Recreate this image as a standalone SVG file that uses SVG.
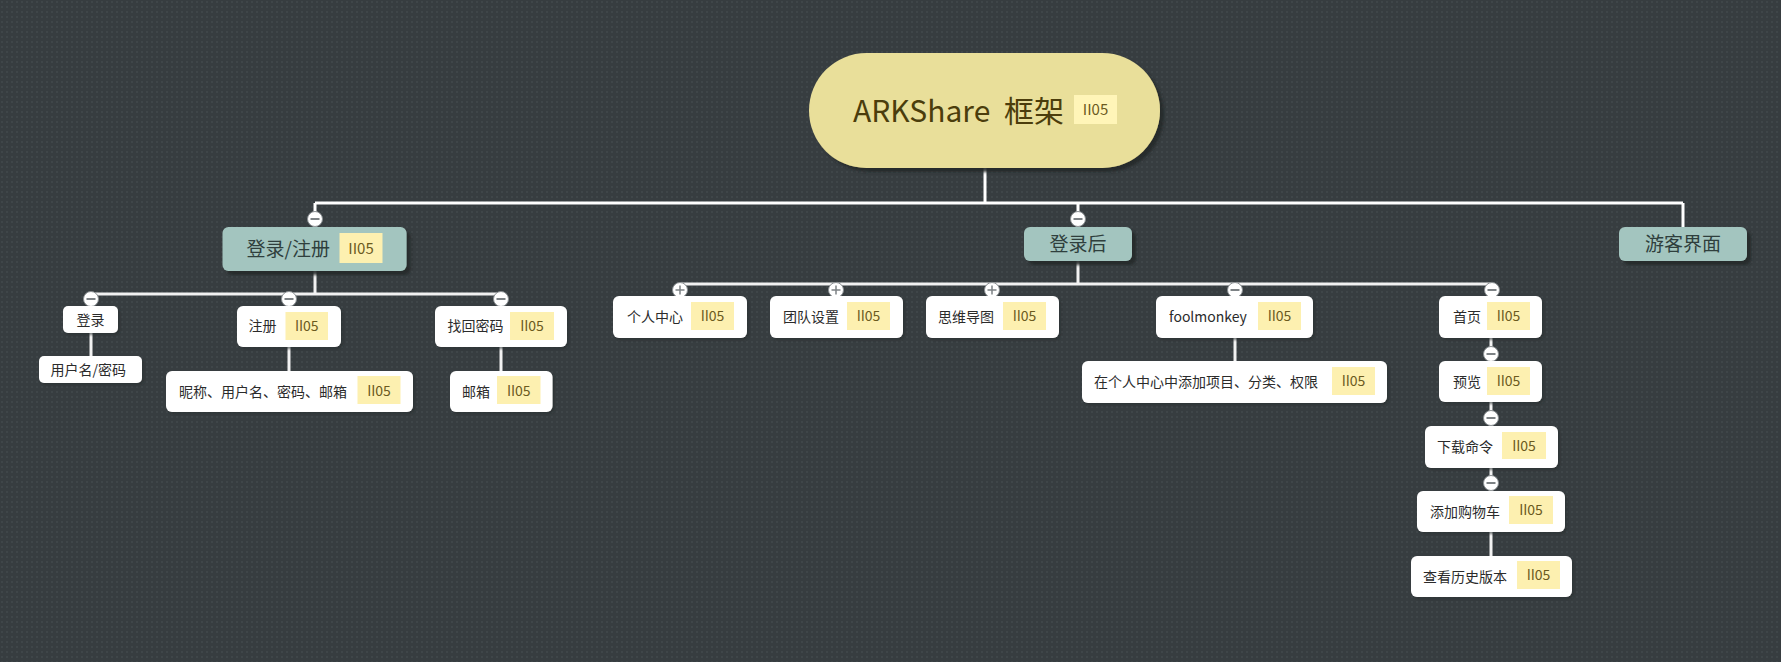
<svg xmlns="http://www.w3.org/2000/svg" width="1781" height="662" viewBox="0 0 1781 662">
  <defs>
    <pattern id="dots" width="5" height="5" patternUnits="userSpaceOnUse">
      <rect width="5" height="5" fill="#373d40"/>
      <rect x="1" y="1" width="2" height="2" fill="#3f4649"/>
    </pattern>
    <filter id="sh" x="-10%" y="-20%" width="130%" height="150%">
      <feDropShadow dx="4" dy="4" stdDeviation="1.5" flood-color="#23282a" flood-opacity="0.9"/>
    </filter>
    <filter id="shw" x="-10%" y="-20%" width="130%" height="150%">
      <feDropShadow dx="2" dy="2" stdDeviation="1" flood-color="#262b2d" flood-opacity="0.6"/>
    </filter>
    <g id="minus">
      <circle r="7.5" fill="#ffffff" stroke="#8a8f92" stroke-width="1"/>
      <line x1="-4.5" y1="0" x2="4.5" y2="0" stroke="#7d8285" stroke-width="2"/>
    </g>
    <g id="plus">
      <circle r="7.5" fill="#ffffff" stroke="#8a8f92" stroke-width="1"/>
      <line x1="-4.5" y1="0" x2="4.5" y2="0" stroke="#7d8285" stroke-width="1.5"/>
      <line x1="0" y1="-4.5" x2="0" y2="4.5" stroke="#7d8285" stroke-width="1.5"/>
    </g>
  </defs>
  <style>
    text { font-family: "Noto Sans CJK SC", "Noto Sans", sans-serif; }
    .root { fill: #e9df9a; }
    .rootText { fill: #4b3d0c; font-size: 30px; }
    .teal { fill: #a3c5bf; }
    .tealText { fill: #2f3f3d; font-size: 19px; }
    .white { fill: #ffffff; }
    .wText { fill: #2b2b2b; font-size: 14px; }
    .tag { fill: #fdf0b0; }
    .tagText { fill: #6b5a1e; font-size: 14px; text-anchor: middle; }
    .tagTextL { fill: #6b5a1e; font-size: 15px; text-anchor: middle; }
    .line { stroke: #ffffff; fill: none; stroke-width: 3; }
    .line2 { stroke: #f2f2f2; fill: none; stroke-width: 3; }
  </style>

  <rect width="1781" height="662" fill="url(#dots)"/>

  <g id="connectors">
    <path class="line" d="M985 168 V203 M315 203 H1683 M315 203 V227 M1078 203 V227 M1683 203 V227"/>
    <path class="line2" d="M315 271 V294 M91 294 H501 M91 294 V306 M289 294 V306 M501 294 V306"/>
    <path class="line2" d="M91 333 V356 M289 347 V371 M501 347 V371"/>
    <path class="line2" d="M1078 261 V284 M680 284 H1492 M680 284 V296 M836 284 V296 M992 284 V296 M1235 284 V296 M1492 284 V296"/>
    <path class="line2" d="M1235 338 V361 M1491 338 V361 M1491 402 V426 M1491 468 V491 M1491 532 V556"/>
    <use href="#minus" x="315" y="219"/>
    <use href="#minus" x="1078" y="219"/>
    <use href="#minus" x="91" y="299"/>
    <use href="#minus" x="289" y="299"/>
    <use href="#minus" x="501" y="299"/>
    <use href="#plus" x="680" y="290"/>
    <use href="#plus" x="836" y="290"/>
    <use href="#plus" x="992" y="290"/>
    <use href="#minus" x="1235" y="290"/>
    <use href="#minus" x="1492" y="290"/>
    <use href="#minus" x="1491" y="354"/>
    <use href="#minus" x="1491" y="418"/>
    <use href="#minus" x="1491" y="483"/>
  </g>

  <g id="node-root">
    <rect class="root" x="809" y="53" width="351" height="115" rx="57.5" filter="url(#sh)"/>
    <text class="rootText" x="853" y="122">ARKShare</text>
    <text class="rootText" x="1004" y="122">框架</text>
    <rect x="1074" y="95" width="43" height="29" fill="#fff5b8"/>
    <text class="tagText" x="1095.5" y="115" style="font-size:15px">II05</text>
  </g>

  <g id="node-login-register">
    <rect class="teal" x="222.5" y="227" width="184" height="44" rx="6" filter="url(#sh)"/>
    <text class="tealText" x="246.5" y="256">登录/注册</text>
    <rect class="tag" x="339.5" y="233" width="43" height="30"/>
    <text class="tagTextL" x="361" y="254">II05</text>
  </g>

  <g id="node-after-login">
    <rect class="teal" x="1024" y="227" width="108" height="34" rx="6" filter="url(#sh)"/>
    <text class="tealText" x="1078" y="251" text-anchor="middle">登录后</text>
  </g>

  <g id="node-guest">
    <rect class="teal" x="1619" y="227" width="128" height="34" rx="6" filter="url(#sh)"/>
    <text class="tealText" x="1683" y="251" text-anchor="middle">游客界面</text>
  </g>

  <g id="node-login">
    <rect class="white" x="63" y="306" width="55" height="27" rx="5" filter="url(#shw)"/>
    <text class="wText" x="90.5" y="324.5" text-anchor="middle">登录</text>
  </g>

  <g id="node-userpass">
    <rect class="white" x="39" y="356" width="103" height="27" rx="5" filter="url(#shw)"/>
    <text class="wText" x="50.5" y="375">用户名/密码</text>
  </g>

  <g id="node-register">
    <rect class="white" x="237" y="306" width="104" height="41" rx="6" filter="url(#shw)"/>
    <text class="wText" x="248.5" y="331">注册</text>
    <rect class="tag" x="285.5" y="312" width="42.5" height="28"/>
    <text class="tagText" x="306.75" y="331">II05</text>
  </g>

  <g id="node-register-fields">
    <rect class="white" x="166" y="371" width="247" height="41" rx="6" filter="url(#shw)"/>
    <text class="wText" x="179" y="396.5">昵称、用户名、密码、邮箱</text>
    <rect class="tag" x="357.5" y="376" width="43" height="28"/>
    <text class="tagText" x="379" y="395.5">II05</text>
  </g>

  <g id="node-recover">
    <rect class="white" x="435" y="306" width="132" height="41" rx="6" filter="url(#shw)"/>
    <text class="wText" x="447.5" y="331">找回密码</text>
    <rect class="tag" x="510" y="312" width="44" height="28"/>
    <text class="tagText" x="532" y="331">II05</text>
  </g>

  <g id="node-email">
    <rect class="white" x="450" y="371" width="102.5" height="41" rx="6" filter="url(#shw)"/>
    <text class="wText" x="462" y="396.5">邮箱</text>
    <rect class="tag" x="497" y="376" width="43.5" height="28"/>
    <text class="tagText" x="518.75" y="395.5">II05</text>
  </g>

  <g id="node-personal">
    <rect class="white" x="613" y="296" width="134" height="42" rx="6" filter="url(#shw)"/>
    <text class="wText" x="627" y="322">个人中心</text>
    <rect class="tag" x="691" y="302" width="43" height="28"/>
    <text class="tagText" x="712.5" y="321">II05</text>
  </g>

  <g id="node-team">
    <rect class="white" x="770" y="296" width="133" height="42" rx="6" filter="url(#shw)"/>
    <text class="wText" x="783" y="322">团队设置</text>
    <rect class="tag" x="847" y="302" width="43" height="28"/>
    <text class="tagText" x="868.5" y="321">II05</text>
  </g>

  <g id="node-mindmap">
    <rect class="white" x="926" y="296" width="133" height="42" rx="6" filter="url(#shw)"/>
    <text class="wText" x="938" y="322">思维导图</text>
    <rect class="tag" x="1003" y="302" width="43" height="28"/>
    <text class="tagText" x="1024.5" y="321">II05</text>
  </g>

  <g id="node-foolmonkey">
    <rect class="white" x="1156" y="296" width="157" height="42" rx="6" filter="url(#shw)"/>
    <text class="wText" x="1169" y="322">foolmonkey</text>
    <rect class="tag" x="1258" y="302" width="43" height="28"/>
    <text class="tagText" x="1279.5" y="321">II05</text>
  </g>

  <g id="node-add-project">
    <rect class="white" x="1082" y="361" width="305" height="42" rx="6" filter="url(#shw)"/>
    <text class="wText" x="1094" y="387">在个人中心中添加项目、分类、权限</text>
    <rect class="tag" x="1332" y="367" width="43" height="28"/>
    <text class="tagText" x="1353.5" y="386">II05</text>
  </g>

  <g id="node-home">
    <rect class="white" x="1439" y="296" width="103" height="42" rx="6" filter="url(#shw)"/>
    <text class="wText" x="1453" y="322">首页</text>
    <rect class="tag" x="1487" y="302" width="43" height="28"/>
    <text class="tagText" x="1508.5" y="321">II05</text>
  </g>

  <g id="node-preview">
    <rect class="white" x="1439" y="361" width="103" height="41" rx="6" filter="url(#shw)"/>
    <text class="wText" x="1453" y="387">预览</text>
    <rect class="tag" x="1487" y="367" width="43" height="28"/>
    <text class="tagText" x="1508.5" y="386">II05</text>
  </g>

  <g id="node-download">
    <rect class="white" x="1425" y="426" width="133" height="42" rx="6" filter="url(#shw)"/>
    <text class="wText" x="1437" y="452">下载命令</text>
    <rect class="tag" x="1502" y="432" width="44" height="27"/>
    <text class="tagText" x="1524" y="451">II05</text>
  </g>

  <g id="node-cart">
    <rect class="white" x="1417" y="491" width="148" height="41" rx="6" filter="url(#shw)"/>
    <text class="wText" x="1430" y="517">添加购物车</text>
    <rect class="tag" x="1509" y="496" width="44" height="28"/>
    <text class="tagText" x="1531" y="515">II05</text>
  </g>

  <g id="node-history">
    <rect class="white" x="1411" y="556" width="161" height="41" rx="6" filter="url(#shw)"/>
    <text class="wText" x="1423" y="582">查看历史版本</text>
    <rect class="tag" x="1517" y="561" width="43" height="28"/>
    <text class="tagText" x="1538.5" y="580">II05</text>
  </g>
</svg>
